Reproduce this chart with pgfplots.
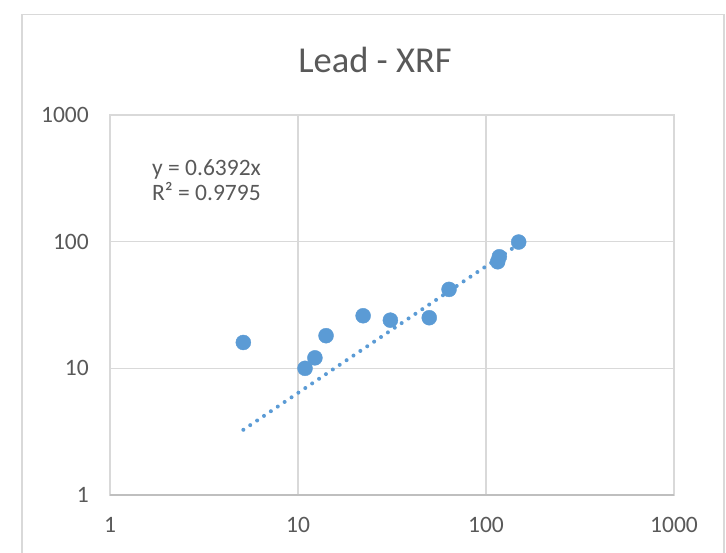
\documentclass[border=0pt]{standalone}
\usepackage{pgfplots}
\pgfplotsset{compat=1.18}
\usepackage{fontspec}
\setmainfont{Carlito}
\definecolor{txt}{HTML}{595959}
\definecolor{grd}{HTML}{D9D9D9}
\definecolor{axl}{HTML}{BFBFBF}
\definecolor{mk}{HTML}{5B9BD5}
\begin{document}
\begin{tikzpicture}
\begin{axis}[
  at={(0,0)}, anchor=south west, scale only axis,
  width=564bp, height=380bp,
  xmode=log, ymode=log,
  xmin=1, xmax=1000, ymin=1, ymax=1000,
  xtick={1,10,100,1000}, ytick={1,10,100,1000},
  xticklabels={1,10,100,1000}, yticklabels={1,10,100,1000},
  minor tick num=0, major tick length=0pt,
  xminorticks=false, yminorticks=false,
  grid=major, major grid style={grd, line width=1.3bp},
  axis line style={grd, line width=1.3bp},
  tick label style={font=\fontsize{23.5bp}{28bp}\selectfont, text=txt, inner sep=0pt},
  xticklabel style={anchor=north, yshift=-22bp},
  yticklabel style={anchor=east, xshift=-21bp},
  clip=false,
]
\addplot[only marks, mark=*, mark size=7.5bp, mark options={draw=mk, fill=mk}] coordinates {
  (5.12,16.0) (10.9,10.0) (12.3,12.1) (14.1,18.1) (22.2,26.0) (31.0,24.0)
  (49.9,25.1) (63.6,42.0) (115.4,69.4) (117.7,76.0) (149.2,99.3)
};
\addplot[mk, line width=4bp, line cap=round, dash pattern=on 0bp off 8.3bp] coordinates {
  (5.12,3.273) (149.2,95.37)
};
\end{axis}
\draw[axl, line width=1.3bp] (0,0) -- (564bp,0);
\draw[grd, line width=1.3bp] (-88bp,-60bp) -- (-88bp,480.3bp) -- (614bp,480.3bp) -- (614bp,-60bp);
\node[font=\fontsize{36.5bp}{42bp}\selectfont, text=txt, inner sep=0pt] at (265bp,435bp) {Lead - XRF};
\node[font=\fontsize{23.5bp}{28bp}\selectfont, text=txt, inner sep=0pt, anchor=west] at (42bp,326bp) {y = 0.6392x};
\node[font=\fontsize{23.5bp}{28bp}\selectfont, text=txt, inner sep=0pt, anchor=west] at (42bp,303bp) {R² = 0.9795};
\pgfresetboundingbox
\useasboundingbox (-110bp,-58bp) rectangle (616bp,495bp);
\end{tikzpicture}
\end{document}
